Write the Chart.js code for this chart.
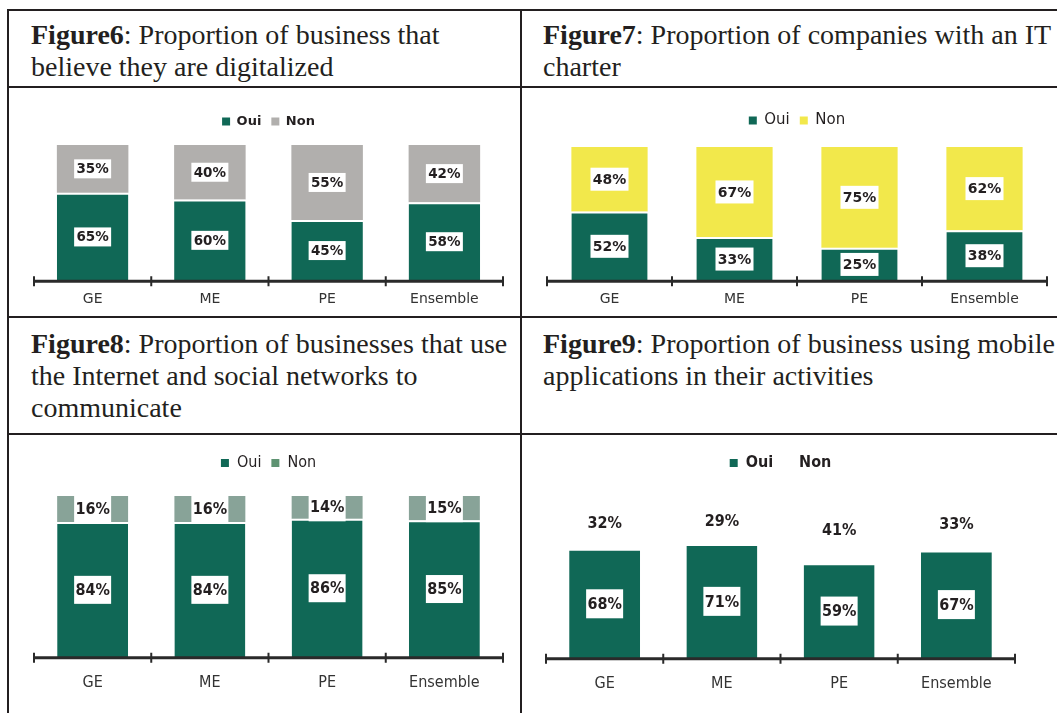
<!DOCTYPE html>
<html>
<head>
<meta charset="utf-8">
<script src="https://cdn.jsdelivr.net/npm/chart.js@4.4.1/dist/chart.umd.min.js"></script>
<style>
  body { margin:0; width:1057px; height:713px; background:#fff; overflow:hidden; position:relative; }
  .line { position:absolute; background:#231f20; }
  .title { position:absolute; font-family:"Liberation Serif", "Times New Roman", serif; font-size:28px; line-height:32px; color:#231f20; white-space:nowrap; }
  .box { position:absolute; }
</style>
</head>
<body>
<div class="line" style="left:7px;top:9px;width:1050px;height:2px"></div>
<div class="line" style="left:7px;top:86px;width:1050px;height:2px"></div>
<div class="line" style="left:7px;top:316px;width:1050px;height:2px"></div>
<div class="line" style="left:7px;top:433px;width:1050px;height:2px"></div>
<div class="line" style="left:7px;top:9px;width:2px;height:704px"></div>
<div class="line" style="left:520px;top:9px;width:2px;height:704px"></div>

<div class="title" style="left:31px;top:19px"><b>Figure6</b>: Proportion of business that<br>believe they are digitalized</div>
<div class="title" style="left:543px;top:19px"><b>Figure7</b>: Proportion of companies with an IT<br>charter</div>
<div class="title" style="left:31px;top:328px"><b>Figure8</b>: Proportion of businesses that use<br>the Internet and social networks to<br>communicate</div>
<div class="title" style="left:543px;top:328px"><b>Figure9</b>: Proportion of business using mobile<br>applications in their activities</div>

<div class="box" style="left:9px;top:88px;width:511px;height:240px"><canvas id="fig6"></canvas></div>
<div class="box" style="left:522px;top:88px;width:535px;height:240px"><canvas id="fig7"></canvas></div>
<div class="box" style="left:9px;top:435px;width:511px;height:278px"><canvas id="fig8"></canvas></div>
<div class="box" style="left:522px;top:435px;width:535px;height:278px"><canvas id="fig9"></canvas></div>

<script>
'use strict';

let categories = ['GE', 'ME', 'PE', 'Ensemble'];
let seriesNames = ['Oui', 'Non'];

let fig6Oui = [65, 60, 45, 58];
let fig6Non = [35, 40, 55, 42];
let fig7Oui = [52, 33, 25, 38];
let fig7Non = [48, 67, 75, 62];
let fig8Oui = [84, 84, 86, 85];
let fig8Non = [16, 16, 14, 15];
let fig9Oui = [68, 71, 59, 67];
let fig9Non = [32, 29, 41, 33];

let green = '#106856';
let ink = '#231f20';
let gothic = '"DejaVu Sans", sans-serif';
let narrow = '"DejaVu Sans Condensed", sans-serif';

// adds room under the legend
let legendGap = {
  id: 'legendGap',
  beforeInit(chart) {
    let fit = chart.legend.fit;
    chart.legend.fit = function () {
      fit.bind(chart.legend)();
      this.height += chart.options.plugins.legendGap.gap;
    };
  }
};

// percent labels in the middle of each segment
let valueBoxes = {
  id: 'valueBoxes',
  afterDatasetsDraw(chart) {
    let o = chart.options.plugins.valueBoxes;
    let ctx = chart.ctx;
    ctx.save();
    ctx.font = o.font;
    ctx.textAlign = 'center';
    ctx.textBaseline = 'middle';
    chart.data.datasets.forEach((ds, d) => {
      chart.getDatasetMeta(d).data.forEach((bar, i) => {
        let x = bar.x;
        let y = (bar.y + bar.base) / 2;
        if (ds.boxed) {
          ctx.fillStyle = '#fff';
          ctx.fillRect(x - o.w / 2, y - o.h / 2, o.w, o.h);
        }
        ctx.fillStyle = ink;
        ctx.fillText(ds.data[i] + '%', x, y + 1);
      });
    });
    ctx.restore();
  }
};

// axis line with tick marks crossing it between categories
let axisTicks = {
  id: 'axisTicks',
  afterDraw(chart) {
    let s = chart.scales.x;
    let n = s.ticks.length;
    let y = chart.chartArea.bottom;
    let ctx = chart.ctx;
    ctx.save();
    ctx.strokeStyle = '#2a2a2a';
    ctx.lineWidth = 3;
    ctx.beginPath();
    ctx.moveTo(s.left, y);
    ctx.lineTo(s.right, y);
    ctx.stroke();
    ctx.lineWidth = 2;
    ctx.beginPath();
    for (let i = 0; i <= n; i++) {
      let x = s.left + i * (s.right - s.left) / n;
      ctx.moveTo(x, y - 5);
      ctx.lineTo(x, y + 5);
    }
    ctx.stroke();
    ctx.restore();
  }
};

function legendItems(chart) {
  return chart.data.datasets.map((ds, i) => ({
    text: ds.label,
    fillStyle: ds.legendColor,
    strokeStyle: ds.legendColor,
    lineWidth: 0,
    hidden: false,
    datasetIndex: i,
    fontColor: ink
  }));
}

function makeChart(id, oui, non, cfg) {
  new Chart(document.getElementById(id), {
    type: 'bar',
    data: {
      labels: categories,
      datasets: [
        {
          label: seriesNames[0],
          data: oui,
          backgroundColor: green,
          borderColor: '#fff',
          borderWidth: { top: 2, left: 0, right: 0, bottom: 0 },
          legendColor: green,
          boxed: true
        },
        {
          label: seriesNames[1],
          data: non,
          backgroundColor: cfg.nonColor,
          borderWidth: 0,
          legendColor: cfg.nonLegend,
          boxed: cfg.nonBoxed
        }
      ]
    },
    options: {
      responsive: true,
      maintainAspectRatio: false,
      animation: false,
      layout: { padding: cfg.pad },
      datasets: { bar: { barPercentage: cfg.barPct, categoryPercentage: 1 } },
      scales: {
        x: {
          stacked: true,
          grid: { display: false, drawTicks: false, tickLength: 0 },
          border: { display: false },
          ticks: { color: '#333', font: cfg.tickFont, padding: cfg.tickPad }
        },
        y: { stacked: true, display: false, min: 0, max: 100 }
      },
      plugins: {
        legend: {
          labels: {
            boxWidth: 8,
            boxHeight: 8,
            padding: 10,
            color: ink,
            font: cfg.legendFont,
            generateLabels: legendItems
          }
        },
        tooltip: { enabled: false },
        legendGap: { gap: cfg.gap },
        valueBoxes: { font: cfg.valueFont, w: cfg.boxW, h: cfg.boxH }
      }
    },
    plugins: [legendGap, valueBoxes, axisTicks]
  });
}

makeChart('fig6', fig6Oui, fig6Non, {
  nonColor: '#b1afad', nonLegend: '#b1afad', nonBoxed: true,
  pad: { left: 25, right: 17, top: 17, bottom: 10 }, gap: 7, tickPad: 10, barPct: 0.61,
  tickFont: { family: gothic, size: 14 },
  legendFont: { family: gothic, size: 13, weight: 'bold' },
  valueFont: 'bold 13.5px ' + gothic, boxW: 37, boxH: 19
});

makeChart('fig7', fig7Oui, fig7Non, {
  nonColor: '#f2e84b', nonLegend: '#f2e84b', nonBoxed: true,
  pad: { left: 25, right: 10, top: 15, bottom: 10 }, gap: 9, tickPad: 10, barPct: 0.61,
  tickFont: { family: gothic, size: 14 },
  legendFont: { family: gothic, size: 15 },
  valueFont: 'bold 14px ' + gothic, boxW: 38, boxH: 23
});

makeChart('fig8', fig8Oui, fig8Non, {
  nonColor: '#88a398', nonLegend: '#5e9372', nonBoxed: true,
  pad: { left: 25, right: 17, top: 10, bottom: 6 }, gap: 15, tickPad: 15, barPct: 0.605,
  tickFont: { family: narrow, size: 16 },
  legendFont: { family: narrow, size: 16 },
  valueFont: 'bold 16px ' + narrow, boxW: 37, boxH: 28
});

makeChart('fig9', fig9Oui, fig9Non, {
  nonColor: 'rgba(0,0,0,0)', nonLegend: 'rgba(0,0,0,0)', nonBoxed: false,
  pad: { left: 24, right: 42, top: 10, bottom: 5 }, gap: 16, tickPad: 15, barPct: 0.605,
  tickFont: { family: narrow, size: 16 },
  legendFont: { family: narrow, size: 16, weight: 'bold' },
  valueFont: 'bold 16px ' + narrow, boxW: 37, boxH: 29
});
</script>
</body>
</html>
